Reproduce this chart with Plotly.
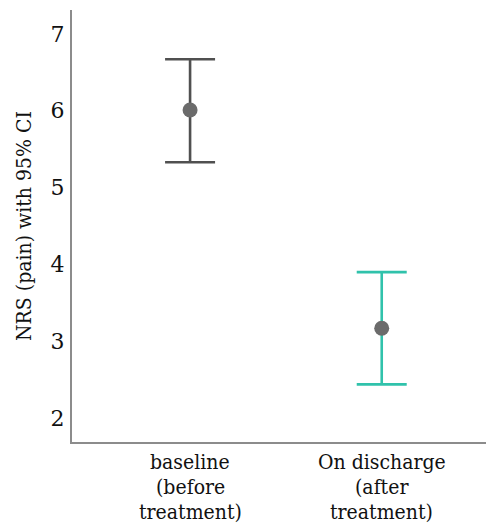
import plotly.graph_objects as go

categories = ["baseline", "discharge"]
label_lines = [["baseline", "(before", "treatment)"], ["On discharge", "(after", "treatment)"]]
means = [6.01, 3.17]
upper = [6.67, 3.90]
lower = [5.33, 2.44]
bar_colors = ["#505050", "#30c2ab"]
y_ticks = [2, 3, 4, 5, 6, 7]

FONT = "DejaVu Serif"
FONT_C = "DejaVu Serif Condensed"

fig = go.Figure()
for i, c in enumerate(categories):
    fig.add_trace(go.Scatter(
        x=[c], y=[means[i]], mode="markers",
        marker=dict(color="#6b6b6b", size=15),
        error_y=dict(type="data", symmetric=False,
                     array=[upper[i] - means[i]],
                     arrayminus=[means[i] - lower[i]],
                     color=bar_colors[i], thickness=2.6, width=25),
        showlegend=False, hoverinfo="skip",
    ))

for i, c in enumerate(categories):
    for j, line in enumerate(label_lines[i]):
        fig.add_annotation(x=c, xref="x", y=0, yref="paper", text=line,
                           showarrow=False, yanchor="middle", xanchor="center",
                           yshift=-20 - 25 * j,
                           font=dict(family=FONT_C, size=21, color="#111"))

fig.update_layout(
    width=486, height=527,
    margin=dict(l=72, r=0, t=10, b=85, autoexpand=False),
    paper_bgcolor="white", plot_bgcolor="white",
    font=dict(family=FONT, size=21, color="#111"),
)
fig.update_xaxes(type="category", categoryarray=categories, range=[-0.616, 1.544],
                 showticklabels=False, showgrid=False, zeroline=False,
                 showline=True, linecolor="#8c8c8c", linewidth=2, ticks="")
fig.update_yaxes(range=[1.69, 7.31], tickvals=y_ticks, ticktext=[str(v) for v in y_ticks],
                 showgrid=False, zeroline=False, showline=True, linecolor="#8c8c8c",
                 linewidth=2, ticks="", ticklabelstandoff=1,
                 tickfont=dict(family=FONT, size=22, color="#111"),
                 title=dict(text="NRS (pain) with 95% CI", standoff=13,
                            font=dict(family=FONT_C, size=21, color="#111")))

fig.write_html("out.html", config={"displayModeBar": False},
               post_script="document.body.style.margin='0';")
